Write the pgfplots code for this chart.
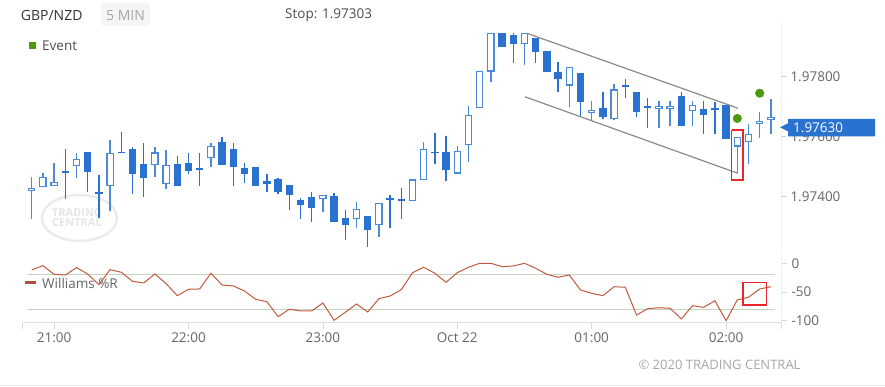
\documentclass[border=0pt]{standalone}
\usepackage{fontspec}
\setmainfont{Open Sans}
\usepackage{pgfplots}
\usepackage{pgfplotstable}
\pgfplotsset{compat=1.18}
\definecolor{cdown}{HTML}{2A72CF}
\definecolor{cup}{HTML}{4A8AD8}
\definecolor{wr}{HTML}{C05A40}
\definecolor{refl}{HTML}{C3D5BF}
\definecolor{evt}{HTML}{4E9A0E}
\definecolor{chan}{HTML}{8A8A8A}
\definecolor{txt}{HTML}{666666}
\definecolor{redbox}{HTML}{E8262B}

% down (filled) candles and dojis: index open high low close
\pgfplotstableread{
i o h l c
3 1.97478 1.97558 1.97392 1.97478
5 1.97549 1.97550 1.97417 1.97481
6 1.97409 1.97472 1.97328 1.97409
8 1.97546 1.97617 1.97544 1.97544
9 1.97558 1.97567 1.97409 1.97476
10 1.97509 1.97578 1.97400 1.97462
13 1.97509 1.97536 1.97436 1.97436
14 1.97511 1.97547 1.97476 1.97485
15 1.97489 1.97547 1.97436 1.97489
17 1.97581 1.97600 1.97506 1.97506
18 1.97558 1.97578 1.97437 1.97500
19 1.97495 1.97513 1.97447 1.97476
20 1.97498 1.97500 1.97436 1.97436
21 1.97452 1.97475 1.97417 1.97442
22 1.97458 1.97461 1.97408 1.97416
23 1.97440 1.97440 1.97356 1.97405
24 1.97388 1.97395 1.97326 1.97372
25 1.97400 1.97415 1.97315 1.97363
27 1.97402 1.97411 1.97317 1.97317
28 1.97329 1.97356 1.97256 1.97305
30 1.97337 1.97337 1.97233 1.97289
32 1.97388 1.97406 1.97295 1.97387
33 1.97388 1.97430 1.97326 1.97386
36 1.97546 1.97611 1.97508 1.97544
37 1.97549 1.97602 1.97452 1.97489
42 1.97947 1.97947 1.97898 1.97898
43 1.97939 1.97945 1.97847 1.97908
45 1.97928 1.97928 1.97845 1.97881
46 1.97887 1.97887 1.97815 1.97815
47 1.97815 1.97848 1.97748 1.97792
49 1.97813 1.97813 1.97669 1.97716
51 1.97697 1.97748 1.97658 1.97667
53 1.97767 1.97792 1.97728 1.97767
54 1.97749 1.97749 1.97667 1.97683
55 1.97696 1.97728 1.97628 1.97696
58 1.97736 1.97748 1.97637 1.97637
60 1.97692 1.97720 1.97609 1.97672
61 1.97688 1.97715 1.97609 1.97688
62 1.97706 1.97706 1.97592 1.97592
}\down

% up (hollow) candles: index open high low close
\pgfplotstableread{
i o h l c
0 1.97419 1.97467 1.97326 1.97429
1 1.97433 1.97480 1.97431 1.97467
2 1.97436 1.97513 1.97434 1.97449
4 1.97501 1.97547 1.97461 1.97527
7 1.97436 1.97589 1.97352 1.97545
11 1.97505 1.97567 1.97467 1.97548
12 1.97442 1.97556 1.97425 1.97507
16 1.97528 1.97578 1.97498 1.97569
26 1.97393 1.97405 1.97349 1.97405
29 1.97325 1.97381 1.97295 1.97358
31 1.97306 1.97378 1.97267 1.97378
34 1.97386 1.97458 1.97386 1.97458
35 1.97456 1.97581 1.97456 1.97559
38 1.97477 1.97569 1.97477 1.97552
39 1.97573 1.97702 1.97517 1.97672
40 1.97695 1.97820 1.97695 1.97820
41 1.97817 1.97945 1.97783 1.97945
44 1.97908 1.97947 1.97839 1.97947
48 1.97770 1.97833 1.97698 1.97833
50 1.97679 1.97720 1.97656 1.97688
52 1.97658 1.97776 1.97656 1.97758
56 1.97691 1.97720 1.97628 1.97700
57 1.97691 1.97720 1.97637 1.97698
59 1.97686 1.97720 1.97637 1.97706
63 1.97567 1.97598 1.97478 1.97598
64 1.97582 1.97642 1.97509 1.97609
65 1.97642 1.97683 1.97597 1.97652
66 1.97656 1.97725 1.97609 1.97667
}\up

% Williams %R
\pgfplotstableread{
i w
0 -11.7
1 -4.1
2 -19.2
3 -20.4
4 -7.6
5 -18.6
6 -37.2
7 -11.1
8 -15.7
9 -31.4
10 -34.3
11 -18.6
12 -35.5
13 -56.4
14 -45.3
15 -44.7
16 -17.4
17 -37.8
18 -39.5
19 -48.3
20 -62.7
21 -66.9
22 -93.0
23 -80.1
24 -83.1
25 -83.1
26 -69.2
27 -99.3
28 -85.4
29 -70.9
30 -84.8
31 -61.7
32 -57.0
33 -46.0
34 -16.4
35 -7.0
36 -17.4
37 -33.1
38 -16.4
39 -7.0
40 0
41 0
42 -5.9
43 -4.7
44 0
45 -8.7
46 -19.2
47 -24.4
48 -20.4
49 -46.5
50 -52.3
51 -56.4
52 -40.8
53 -41.8
54 -90.1
55 -79.1
56 -77.4
57 -78.4
58 -97.0
59 -73.9
60 -76.7
61 -65.2
62 -100
63 -63.9
64 -59.2
65 -44.8
66 -40.8
}\wrtab

\begin{document}
\begin{tikzpicture}
\path[use as bounding box] (0pt,0pt) rectangle (885pt,387pt);

% watermark
\begin{scope}[x=1pt,y=1pt]
\draw[black!8, line width=2.5pt] (79.5,169) ellipse [x radius=37.5, y radius=23];
\node[text=black!10, font=\fontsize{11}{11}\selectfont\bfseries] at (77,174) {TRADING};
\node[text=black!10, font=\fontsize{11}{11}\selectfont\bfseries] at (77,164.5) {CENTRAL};
\end{scope}

\begin{axis}[
  at={(22.74pt,136.3pt)}, anchor=south west, scale only axis,
  width=758.24pt, height=228pt,
  xmin=-0.8, xmax=66.9, ymin=1.9722, ymax=1.9798,
  axis x line=none, axis y line*=right,
  axis line style={draw=black!6, -},
  ytick={1.974,1.976,1.978},
  tick style={draw=black!20, line width=0.8pt},
  major tick length=5pt, tick align=outside,
  yticklabel style={font=\fontsize{13.5}{15}\selectfont, text=txt, xshift=1pt,
    /pgf/number format/.cd, fixed, fixed zerofill, precision=5, assume math mode=true},
]
% wicks
\addplot[draw=none, error bars/.cd, y dir=plus, y explicit, error mark=none,
  error bar style={draw=cdown, line width=1.4pt}]
  table[x=i, y=l, y error plus expr={\thisrow{h}-\thisrow{l}}] {\down};
\addplot[draw=none, error bars/.cd, y dir=plus, y explicit, error mark=none,
  error bar style={draw=cup, line width=1.4pt}]
  table[x=i, y=l, y error plus expr={\thisrow{h}-\thisrow{l}}] {\up};
% filled bodies
\addplot[draw=none, error bars/.cd, y dir=plus, y explicit, error mark=none,
  error bar style={draw=cdown, line width=7.5pt}]
  table[x=i, y expr={min(\thisrow{o},\thisrow{c})},
        y error plus expr={max(abs(\thisrow{o}-\thisrow{c}),0.00006)}] {\down};
% hollow bodies
\addplot[draw=none, error bars/.cd, y dir=plus, y explicit, error mark=none,
  error bar style={draw=cup, line width=7.5pt}]
  table[x=i, y expr={min(\thisrow{o},\thisrow{c})},
        y error plus expr={max(\thisrow{c}-\thisrow{o},0.00011)}] {\up};
\addplot[draw=none, error bars/.cd, y dir=plus, y explicit, error mark=none,
  error bar style={draw=white, line width=4.9pt}]
  table[x=i, y expr={min(\thisrow{o},\thisrow{c})+0.00004},
        y error plus expr={max(\thisrow{c}-\thisrow{o},0.00011)-0.00008}] {\up};
% channel
\addplot[chan, line width=1.2pt] coordinates {(44.2,1.97945) (63.05,1.97695)};
\addplot[chan, line width=1.2pt] coordinates {(44.05,1.97733) (63.05,1.97478)};
% red box
\addplot[redbox, line width=1.5pt] coordinates {(62.5,1.97622) (63.5,1.97622) (63.5,1.97456) (62.5,1.97456) (62.5,1.97622)};
% events
\addplot[only marks, mark=*, mark size=4.3pt, mark options={fill=evt, draw=evt}] coordinates {(63,1.97661) (65,1.97745)};
\end{axis}

\begin{axis}[
  at={(22.74pt,64.3pt)}, anchor=south west, scale only axis,
  width=758.24pt, height=67.45pt,
  xmin=-0.8, xmax=66.9, ymin=-103.5, ymax=14,
  axis x line*=bottom, axis y line*=right,
  x axis line style={draw=black!12, -},
  y axis line style={draw=black!6, -},
  xtick={2,14,26,38,50,62},
  xticklabels={21:00,22:00,23:00,Oct 22,01:00,02:00},
  extra x ticks={-0.8,66.9}, extra x tick labels={},
  ytick={-100,-50,0}, yticklabels={-100,-50,0},
  tick style={draw=black!15, line width=0.8pt},
  major tick length=6pt, tick align=outside,
  xticklabel style={font=\fontsize{13.5}{15}\selectfont, text=txt},
  yticklabel style={font=\fontsize{13.5}{15}\selectfont, text=txt, xshift=1pt},
]
\addplot[refl, line width=1pt] coordinates {(-0.3,-20) (66.4,-20)};
\addplot[refl, line width=1pt] coordinates {(-0.3,-80) (66.4,-80)};
\addplot[wr, line width=1pt] table[x=i, y=w] {\wrtab};
\addplot[redbox, line width=1.5pt] coordinates {(63.5,-33.1) (65.6,-33.1) (65.6,-72.6) (63.5,-72.6) (63.5,-33.1)};
\end{axis}

\begin{scope}[x=1pt,y=1pt]
% header
\node[anchor=west, inner sep=0, text=black!80, font=\fontsize{14}{16}\selectfont] at (20.7,371.5) {GBP/NZD};
\fill[black!4, rounded corners=3pt] (101,361) rectangle (150,384);
\node[text=black!35, inner sep=0, font=\fontsize{14}{16}\selectfont] at (125.5,371.7) {5 MIN};
\node[anchor=west, inner sep=0, text=black!70, font=\fontsize{13.5}{15}\selectfont] at (285,372) {Stop: 1.97303};
% event legend
\fill[evt] (29.3,337.7) rectangle (35.8,345.3);
\node[anchor=west, inner sep=0, text=black!70, font=\fontsize{13.5}{15}\selectfont] at (42,341) {Event};
% williams legend
\draw[wr!90!black, line width=2.5pt] (25,104.5) -- (36,104.5);
\node[anchor=west, inner sep=0, text=txt, font=\fontsize{13.5}{15}\selectfont] at (42,104) {Williams \%R};
% price label
\fill[cdown] (780,259.7) -- (788,263.7) -- (788,268) -- (875,268) -- (875,250.5) -- (788,250.5) -- (788,255.7) -- cycle;
\node[anchor=west, inner sep=0, text=white, font=\fontsize{13.5}{15}\selectfont] at (793,259.3) {1.97630};
% copyright
\node[text=black!35, font=\fontsize{13}{15}\selectfont] at (719.5,22) {© 2020 TRADING CENTRAL};
\draw[black!8, line width=1pt] (0,1) -- (885,1);
\end{scope}
\end{tikzpicture}
\end{document}
